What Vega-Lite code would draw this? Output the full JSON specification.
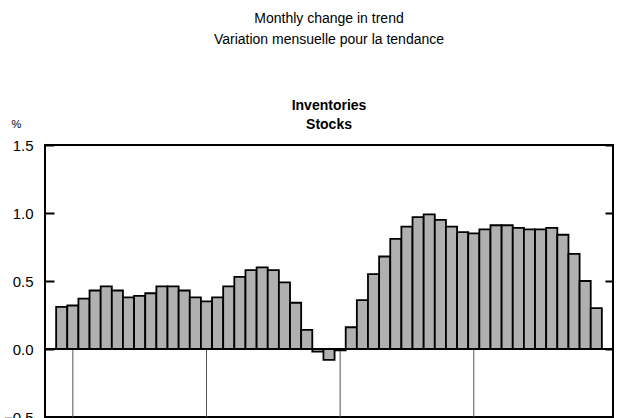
{
  "$schema": "https://vega.github.io/schema/vega-lite/v6.json",
  "width": 568,
  "height": 272,
  "autosize": {"type": "none"},
  "padding": {"left": 45, "top": 145, "right": 8, "bottom": 1},
  "background": "white",
  "config": {
    "view": {"stroke": "black", "strokeWidth": 2},
    "font": "Liberation Sans"
  },
  "title": {
    "text": ["Monthly change in trend", "Variation mensuelle pour la tendance"],
    "subtitle": ["Inventories", "Stocks"],
    "font": "Liberation Sans",
    "subtitleFont": "Liberation Sans",
    "fontSize": 14,
    "fontWeight": "normal",
    "subtitleFontSize": 14,
    "subtitleFontWeight": "bold",
    "color": "black",
    "subtitleColor": "black",
    "anchor": "middle",
    "frame": "group",
    "lineHeight": 21,
    "subtitleLineHeight": 19,
    "subtitlePadding": 52,
    "offset": -14
  },
  "datasets": {
    "bars": [
      {"i": 1, "v": 0.31}, {"i": 2, "v": 0.32}, {"i": 3, "v": 0.37}, {"i": 4, "v": 0.43},
      {"i": 5, "v": 0.46}, {"i": 6, "v": 0.43}, {"i": 7, "v": 0.38}, {"i": 8, "v": 0.39},
      {"i": 9, "v": 0.41}, {"i": 10, "v": 0.46}, {"i": 11, "v": 0.46}, {"i": 12, "v": 0.43},
      {"i": 13, "v": 0.38}, {"i": 14, "v": 0.35}, {"i": 15, "v": 0.38}, {"i": 16, "v": 0.46},
      {"i": 17, "v": 0.53}, {"i": 18, "v": 0.58}, {"i": 19, "v": 0.60}, {"i": 20, "v": 0.58},
      {"i": 21, "v": 0.49}, {"i": 22, "v": 0.34}, {"i": 23, "v": 0.14}, {"i": 24, "v": -0.02},
      {"i": 25, "v": -0.08}, {"i": 26, "v": -0.01}, {"i": 27, "v": 0.16}, {"i": 28, "v": 0.36},
      {"i": 29, "v": 0.55}, {"i": 30, "v": 0.68}, {"i": 31, "v": 0.81}, {"i": 32, "v": 0.90},
      {"i": 33, "v": 0.97}, {"i": 34, "v": 0.99}, {"i": 35, "v": 0.95}, {"i": 36, "v": 0.90},
      {"i": 37, "v": 0.86}, {"i": 38, "v": 0.85}, {"i": 39, "v": 0.88}, {"i": 40, "v": 0.91},
      {"i": 41, "v": 0.91}, {"i": 42, "v": 0.89}, {"i": 43, "v": 0.88}, {"i": 44, "v": 0.88},
      {"i": 45, "v": 0.89}, {"i": 46, "v": 0.84}, {"i": 47, "v": 0.70}, {"i": 48, "v": 0.50},
      {"i": 49, "v": 0.30}
    ],
    "years": [{"i": 2}, {"i": 14}, {"i": 26}, {"i": 38}]
  },
  "resolve": {"axis": {"y": "independent"}},
  "layer": [
    {
      "data": {"name": "years"},
      "mark": {"type": "rule", "color": "#555555", "strokeWidth": 1},
      "encoding": {
        "x": {"field": "i", "type": "ordinal", "scale": {"domain": [0,1,2,3,4,5,6,7,8,9,10,11,12,13,14,15,16,17,18,19,20,21,22,23,24,25,26,27,28,29,30,31,32,33,34,35,36,37,38,39,40,41,42,43,44,45,46,47,48,49,50], "paddingInner": 0, "paddingOuter": 0}, "axis": null},
        "y": {"datum": 0, "type": "quantitative", "scale": {"domain": [-0.5, 1.5], "nice": false, "zero": false},
          "axis": {"orient": "left", "values": [-0.5, 0, 0.5, 1, 1.5], "format": ".1f", "grid": false, "domain": false,
            "ticks": true, "tickSize": -9, "tickWidth": 2, "tickColor": "black",
            "labelFont": "Liberation Sans", "labelFontSize": 15, "labelColor": "black", "labelPadding": 21,
            "title": "%", "titleAngle": 0, "titleX": -34, "titleY": -18, "titleAlign": "left", "titleBaseline": "alphabetic",
            "titleFont": "Liberation Sans", "titleFontSize": 11, "titleFontWeight": "normal", "titleColor": "black"}},
        "y2": {"datum": -0.5}
      }
    },
    {
      "data": {"name": "bars"},
      "mark": {"type": "bar", "fill": "#b0b0b0", "stroke": "black", "strokeWidth": 1.8},
      "encoding": {
        "x": {"field": "i", "type": "ordinal"},
        "y": {"field": "v", "type": "quantitative",
          "axis": {"orient": "right", "values": [-0.5, 0, 0.5, 1, 1.5], "grid": false, "domain": false, "labels": false,
            "ticks": true, "tickSize": -8, "tickWidth": 2, "tickColor": "black", "title": null}},
        "y2": {"datum": 0}
      }
    },
    {
      "data": {"name": "years"},
      "mark": {"type": "rule", "color": "black", "strokeWidth": 2},
      "encoding": {
        "y": {"datum": 0, "type": "quantitative", "axis": null}
      }
    }
  ]
}
